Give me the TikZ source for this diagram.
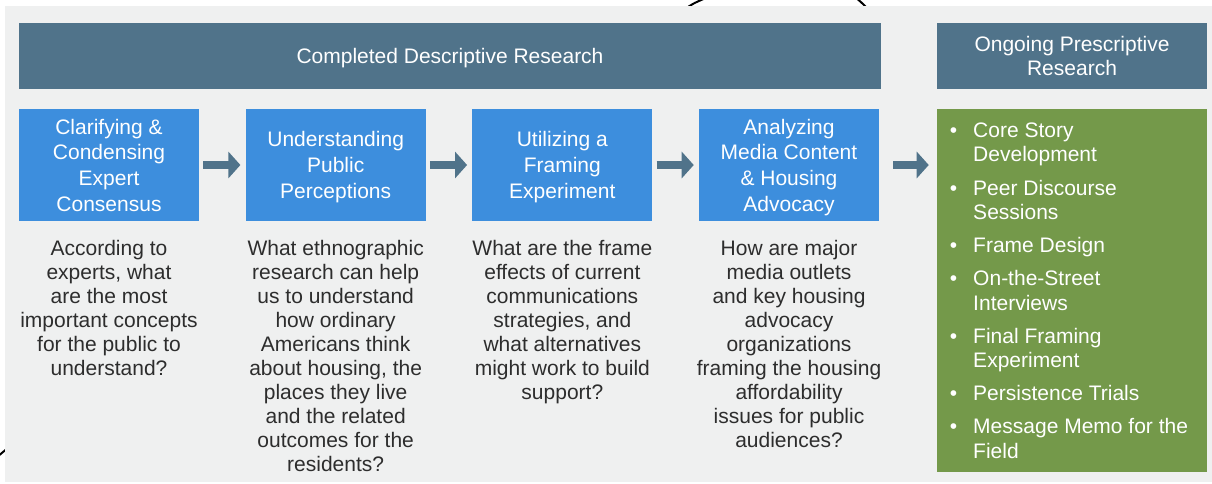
\documentclass[tikz,border=0pt]{standalone}
\usepackage{fontspec}
\setmainfont{Liberation Sans}
\usetikzlibrary{arrows.meta, positioning}

\definecolor{headblue}{RGB}{80,115,138}
\definecolor{stageblue}{RGB}{61,142,221}
\definecolor{stepgreen}{RGB}{116,153,74}
\definecolor{panelgray}{RGB}{239,240,240}
\definecolor{askgray}{RGB}{45,45,45}

\begin{document}
\begin{tikzpicture}[x=0.75pt, y=-0.75pt, >={Triangle[length=9pt, width=19.5pt]}, node distance=170pt,
    header/.style={rectangle, fill=headblue, text=white, align=center, minimum height=49.5pt, inner sep=0pt, font=\fontsize{15.75}{18}\selectfont},
    stage/.style={rectangle, fill=stageblue, text=white, align=center, minimum width=135pt, minimum height=84pt, inner sep=0pt, text depth=0pt, font=\fontsize{15.75}{19.3}\selectfont},
    question/.style={align=center, inner sep=0pt, text=askgray, font=\fontsize{15.75}{18}\selectfont},
    flow/.style={->, draw=headblue, line width=6pt}]
    \useasboundingbox (0,0) rectangle (1212,483);

    % Stray strokes at the edges
    \draw[line width=1.5pt] (684,10) .. controls (692,4) .. (708,-3);
    \draw[line width=1.5pt] (855,-3) .. controls (861,2) .. (869,10);
    \draw[line width=1.5pt] (-3,457) -- (9,447);

    % Panel
    \fill[panelgray] (5,6) rectangle (1212,482);

    % Headers
    \node[header, minimum width=646.5pt, text height=11.3pt, text depth=0pt](done) at (450,56) {Completed Descriptive Research};
    \node[header, minimum width=202.5pt](ongoing) at (1072,56) {Ongoing Prescriptive\\ Research};

    % Stages
    \node[stage](clarify) at (109,165) {Clarifying \&\\ Condensing\\ Expert\\ Consensus};
    \node[stage, right of=clarify](perceive) {Understanding\\ Public\\ Perceptions};
    \node[stage, right of=perceive](experiment) {Utilizing a\\ Framing\\ Experiment};
    \node[stage, right of=experiment](media) {Analyzing\\ Media Content\\ \& Housing\\ Advocacy};

    % Questions under the stages
    \node[question, below=14.25pt of clarify](askclarify)
    {According to\\ experts, what\\ are the most\\ important concepts\\ for the public to\\ understand?};
    \node[question, below=14.25pt of perceive](askperceive)
    {What ethnographic\\ research can help\\ us to understand\\ how ordinary\\ Americans think\\ about housing, the\\ places they live\\ and the related\\ outcomes for the\\ residents?};
    \node[question, below=14.25pt of experiment](askexperiment)
    {What are the frame\\ effects of current\\ communications\\ strategies, and\\ what alternatives\\ might work to build\\ support?};
    \node[question, below=14.25pt of media](askmedia)
    {How are major\\ media outlets\\ and key housing\\ advocacy\\ organizations\\ framing the housing\\ affordability\\ issues for public\\ audiences?};

    % Ongoing steps
    \node[rectangle, fill=stepgreen, minimum width=202.5pt, minimum height=272.25pt, inner sep=0pt](steps) at (1072,290.5) {};
    \node[anchor=north west, inner sep=0pt, text=white, font=\fontsize{15.75}{18.4}\selectfont](steplist) at (949.5,120)
    {\begin{tabular}{@{}p{17.6pt}@{}l@{}}
        \textbullet & Core Story\\ & Development\\[6.4pt]
        \textbullet & Peer Discourse\\ & Sessions\\[6.4pt]
        \textbullet & Frame Design\\[6.4pt]
        \textbullet & On-the-Street\\ & Interviews\\[6.4pt]
        \textbullet & Final Framing\\ & Experiment\\[6.4pt]
        \textbullet & Persistence Trials\\[6.4pt]
        \textbullet & Message Memo for the\\ & Field
    \end{tabular}};

    % Arrows
    \draw[flow, shorten <=3pt, shorten >=3.75pt] (clarify.east) -- (perceive.west);
    \draw[flow, shorten <=3pt, shorten >=3.75pt] (perceive.east) -- (experiment.west);
    \draw[flow, shorten <=3pt, shorten >=3.75pt] (experiment.east) -- (media.west);
    \draw[flow, shorten <=10.5pt, shorten >=6pt] (media.east) -- (media.east -| steps.west);

\end{tikzpicture}
\end{document}
